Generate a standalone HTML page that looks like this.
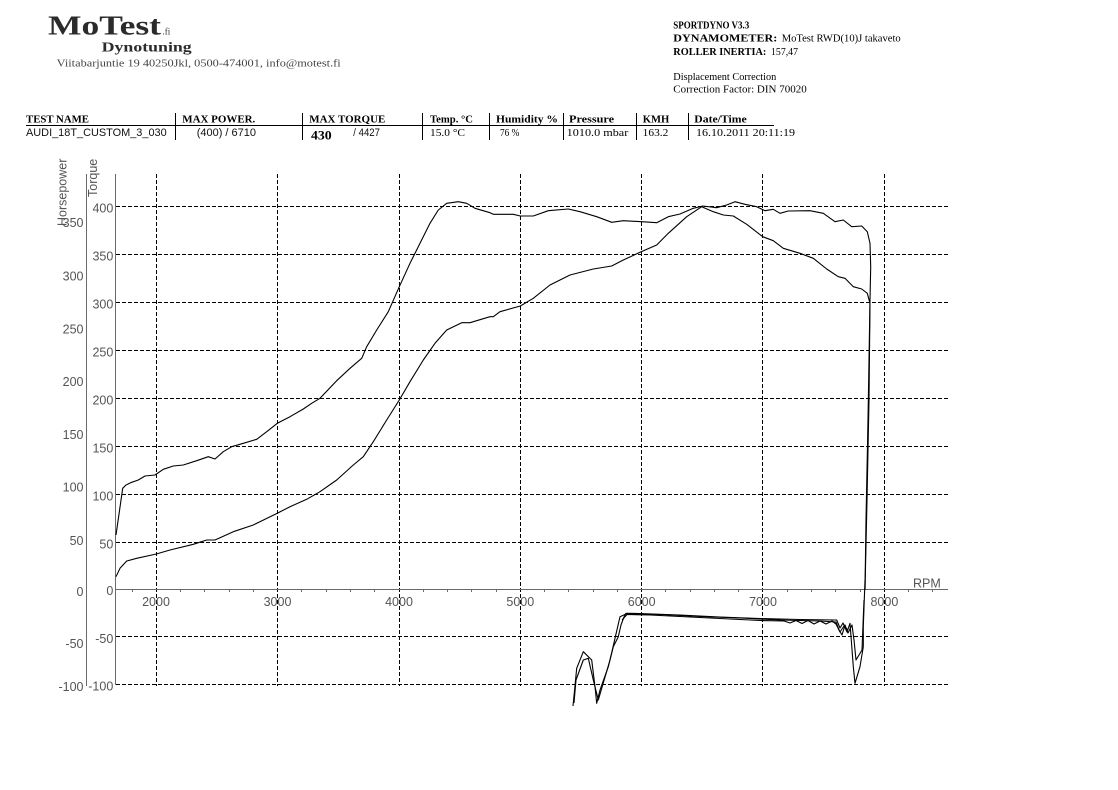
<!DOCTYPE html>
<html><head><meta charset="utf-8"><style>
html,body{margin:0;padding:0;background:#fff;}
svg{display:block;}
.ax{font-family:"Liberation Sans",sans-serif;font-size:12.5px;fill:#555;}
.sf{font-family:"Liberation Serif",serif;fill:#000;}
.ss{font-family:"Liberation Sans",sans-serif;fill:#111;}
</style></head><body>
<svg width="1118" height="790" viewBox="0 0 1118 790" xmlns="http://www.w3.org/2000/svg">
<rect width="1118" height="790" fill="#fff"/>
<!-- Header left -->
<text x="48" y="34.3" class="sf" font-size="27" font-weight="bold" fill="#2b2b2b" textLength="113" lengthAdjust="spacingAndGlyphs" style="fill:#2b2b2b">MoTest</text>
<text x="162.5" y="34.3" class="sf" font-size="9" style="fill:#333">.fi</text>
<text x="101.7" y="51.7" class="sf" font-size="14" font-weight="bold" textLength="90" lengthAdjust="spacingAndGlyphs" style="fill:#2b2b2b">Dynotuning</text>
<text x="56.7" y="66.7" class="sf" font-size="10" textLength="284" lengthAdjust="spacingAndGlyphs" style="fill:#444">Viitabarjuntie 19 40250Jkl, 0500-474001, info@motest.fi</text>
<!-- Header right -->
<text x="673.3" y="28.3" class="sf" font-size="11" font-weight="bold" textLength="76" lengthAdjust="spacingAndGlyphs">SPORTDYNO V3.3</text>
<text x="673.3" y="41.7" class="sf" font-size="11" font-weight="bold" textLength="104" lengthAdjust="spacingAndGlyphs">DYNAMOMETER:</text>
<text x="781.7" y="41.7" class="sf" font-size="11" textLength="119" lengthAdjust="spacingAndGlyphs">MoTest RWD(10)J takaveto</text>
<text x="673.3" y="55" class="sf" font-size="11" font-weight="bold" textLength="93" lengthAdjust="spacingAndGlyphs">ROLLER INERTIA:</text>
<text x="771" y="55" class="sf" font-size="11" textLength="27" lengthAdjust="spacingAndGlyphs">157,47</text>
<text x="673.3" y="80" class="sf" font-size="11" textLength="103" lengthAdjust="spacingAndGlyphs">Displacement Correction</text>
<text x="673.3" y="92.3" class="sf" font-size="11" textLength="133.4" lengthAdjust="spacingAndGlyphs">Correction Factor: DIN 70020</text>
<!-- Table -->
<g class="sf" font-size="11" font-weight="bold">
<text x="26" y="122.7" textLength="63" lengthAdjust="spacingAndGlyphs">TEST NAME</text>
<text x="182.3" y="122.7" textLength="73" lengthAdjust="spacingAndGlyphs">MAX POWER.</text>
<text x="309.3" y="122.7" textLength="76" lengthAdjust="spacingAndGlyphs">MAX TORQUE</text>
<text x="430" y="122.7" textLength="43" lengthAdjust="spacingAndGlyphs">Temp. °C</text>
<text x="496" y="122.7" textLength="62" lengthAdjust="spacingAndGlyphs">Humidity %</text>
<text x="569" y="122.7" textLength="45" lengthAdjust="spacingAndGlyphs">Pressure</text>
<text x="642.7" y="122.7" textLength="26.6" lengthAdjust="spacingAndGlyphs">KMH</text>
<text x="694.3" y="122.7" textLength="52.4" lengthAdjust="spacingAndGlyphs">Date/Time</text>
</g>
<line x1="26" y1="125.5" x2="774" y2="125.5" stroke="#000" stroke-width="1"/>
<g stroke="#000" stroke-width="1" shape-rendering="crispEdges">
<line x1="175.5" y1="113" x2="175.5" y2="140"/>
<line x1="302.5" y1="113" x2="302.5" y2="140"/>
<line x1="422.5" y1="113" x2="422.5" y2="140"/>
<line x1="489.5" y1="113" x2="489.5" y2="140"/>
<line x1="563.5" y1="113" x2="563.5" y2="140"/>
<line x1="636.5" y1="113" x2="636.5" y2="140"/>
<line x1="688.5" y1="113" x2="688.5" y2="140"/>
</g>
<text x="26" y="136" class="ss" font-size="11" textLength="140.7" lengthAdjust="spacingAndGlyphs">AUDI_18T_CUSTOM_3_030</text>
<text x="196.7" y="136" class="ss" font-size="11" textLength="59.3" lengthAdjust="spacingAndGlyphs">(400) / 6710</text>
<text x="311" y="139.3" class="sf" font-size="13" font-weight="bold" textLength="20.7" lengthAdjust="spacingAndGlyphs">430</text>
<text x="353.3" y="136" class="ss" font-size="11" textLength="26.7" lengthAdjust="spacingAndGlyphs">/ 4427</text>
<text x="430" y="136" class="sf" font-size="11" textLength="35" lengthAdjust="spacingAndGlyphs">15.0 °C</text>
<text x="500" y="136" class="sf" font-size="11" textLength="19.3" lengthAdjust="spacingAndGlyphs">76 %</text>
<text x="566.7" y="136" class="sf" font-size="11" textLength="61.6" lengthAdjust="spacingAndGlyphs">1010.0 mbar</text>
<text x="642.7" y="136" class="sf" font-size="11" textLength="25.6" lengthAdjust="spacingAndGlyphs">163.2</text>
<text x="696" y="136" class="sf" font-size="11" textLength="99" lengthAdjust="spacingAndGlyphs">16.10.2011 20:11:19</text>

<!-- Grid -->
<g stroke="#000" stroke-width="1" stroke-dasharray="4 2" shape-rendering="crispEdges" fill="none">
<line x1="116" y1="206.5" x2="948" y2="206.5"/>
<line x1="116" y1="254.5" x2="948" y2="254.5"/>
<line x1="116" y1="302.5" x2="948" y2="302.5"/>
<line x1="116" y1="350.5" x2="948" y2="350.5"/>
<line x1="116" y1="398.5" x2="948" y2="398.5"/>
<line x1="116" y1="446.5" x2="948" y2="446.5"/>
<line x1="116" y1="494.5" x2="948" y2="494.5"/>
<line x1="116" y1="542.5" x2="948" y2="542.5"/>
<line x1="116" y1="636.5" x2="948" y2="636.5"/>
<line x1="116" y1="684.5" x2="948" y2="684.5"/>
<line x1="156.5" y1="174" x2="156.5" y2="686"/>
<line x1="277.5" y1="174" x2="277.5" y2="686"/>
<line x1="399.5" y1="174" x2="399.5" y2="686"/>
<line x1="520.5" y1="174" x2="520.5" y2="686"/>
<line x1="641.5" y1="174" x2="641.5" y2="686"/>
<line x1="762.5" y1="174" x2="762.5" y2="686"/>
<line x1="884.5" y1="174" x2="884.5" y2="686"/>
</g>
<!-- Axes -->
<g stroke="#6a6a6a" stroke-width="1" shape-rendering="crispEdges">
<line x1="86.5" y1="174" x2="86.5" y2="686"/>
<line x1="115.5" y1="174" x2="115.5" y2="685"/>
<line x1="115" y1="589.5" x2="948" y2="589.5"/>
<path d="M132.5 589v3M180.5 589v3M204.5 589v3M229.5 589v3M253.5 589v3M301.5 589v3M326.5 589v3M350.5 589v3M374.5 589v3M423.5 589v3M447.5 589v3M471.5 589v3M496.5 589v3M544.5 589v3M568.5 589v3M593.5 589v3M617.5 589v3M665.5 589v3M690.5 589v3M714.5 589v3M738.5 589v3M787.5 589v3M811.5 589v3M835.5 589v3M860.5 589v3M908.5 589v3M932.5 589v3"/>
</g>
<!-- Axis labels -->
<g class="ax" text-anchor="end">
<text x="113.3" y="212.5">400</text>
<text x="113.3" y="260.5">350</text>
<text x="113.3" y="308.5">300</text>
<text x="113.3" y="356.5">250</text>
<text x="113.3" y="404.5">200</text>
<text x="113.3" y="452.5">150</text>
<text x="113.3" y="500.5">100</text>
<text x="113.3" y="548.5">50</text>
<text x="113.3" y="595">0</text>
<text x="113.3" y="643">-50</text>
<text x="113.3" y="690.5">-100</text>
<text x="83.5" y="227">350</text>
<text x="83.5" y="280.5">300</text>
<text x="83.5" y="333.5">250</text>
<text x="83.5" y="386">200</text>
<text x="83.5" y="439">150</text>
<text x="83.5" y="491.5">100</text>
<text x="83.5" y="545">50</text>
<text x="83.5" y="596">0</text>
<text x="83.5" y="648">-50</text>
<text x="83.5" y="691">-100</text>
</g>
<g class="ax" text-anchor="middle">
<text x="156" y="606">2000</text>
<text x="277.5" y="606">3000</text>
<text x="399" y="606">4000</text>
<text x="520.3" y="606">5000</text>
<text x="641.7" y="606">6000</text>
<text x="763" y="606">7000</text>
<text x="884.4" y="606">8000</text>
</g>
<text x="913" y="587.5" class="ax">RPM</text>
<text transform="translate(66.5,226) rotate(-90)" class="ax">Horsepower</text>
<text transform="translate(97,197) rotate(-90)" class="ax">Torque</text>

<!-- Curves -->
<g fill="none" stroke="#000" stroke-width="1.1" stroke-linejoin="round">
<polyline points="116,535 122.7,488.3 126,485 131.7,482.3 138.3,480 145,476 155,475 163.3,469.3 173.3,466 183.3,465 196.7,460.7 208.3,456.7 215,459 223.3,451.7 231.7,446.7 243.3,443.3 256.7,439.3 266.7,431.7 277.3,423.3 290,416.7 303.3,409 311.7,403.3 320,398.3 336.7,380.7 350,368.3 361.7,358.3 366.7,346.7 376.7,330 388.3,311.7 399.3,286.7 410,263.3 420,243.3 430,223.3 438.3,210 446.7,203.3 458.3,201.7 466.7,203.3 475,208.3 490,212.7 493.3,214.3 513.3,214.3 520.3,216 533.3,216 548.3,210.7 568.3,209 580,211.7 596.7,216.7 611.7,222.3 623.3,220.7 641.7,221.7 656.7,222.7 668.3,216.7 680,214 693.3,208.3 702.7,206 716.7,207.7 726.7,205 735,201.7 745,204.3 756.7,206.7 765,210.7 773.3,209.3 780,213.3 788.3,211 810,210.7 823.3,213.3 835,221.7 843.3,220 851.7,226.7 861.7,226 867.3,231.7 870,243.3 870.7,266.7 870,300 868,420 866,520 865,590"/>
<polyline points="116,576.7 120,568.3 126.7,561 136.7,558.3 156.3,554 170,550 193.3,544.3 206.7,540 215,540 233.3,531.7 253.3,525 277.3,513.3 290,506.7 306.7,499.3 320,491.7 336.7,480 353.3,465 363.3,456.7 373.3,441.7 386.7,420 399.3,400 410,381.7 423.3,360 435,343.3 446.7,330 461.7,322.7 470,322.7 490,316.7 493.3,316.7 500,311.7 520.3,306 533.3,298.3 550,285 570,275 593.3,269 611.7,266 623.3,260 640,252.3 656.7,245 668.3,233.3 686.7,216.7 701.7,206.7 713.3,211.7 723.3,215 733.3,216 746.7,224.3 762.7,236.7 773.3,240.7 783.3,248.3 800,253.3 813.3,258.3 826.7,269 838.3,276.7 845,278.3 853.3,286.7 861.7,289 867.3,293.3 870,303.3 869,400 867,500 865,590"/>
<polyline points="573,706 576.7,668.3 583.3,651.7 591.7,660 595,686.7 596.7,703.3 600,690 608.3,666.7 613.3,646.7 618.3,636.7 621,625 624,617 626,613.3 640,613.5 680,615 720,617 760,618.5 800,619.5 836.7,620 840,628 843,623 847,632 850,623.3 853.3,666.7 855,683.3 860,666.7 863.3,646.7 863.3,626.7 865,580"/>
<polyline points="574,703 576,680 583.3,660 588.3,658.3 593.3,680 598.3,700 610,660 620,616.7 626,614 660,614.5 700,616.5 740,618 780,620 820,621 836,622 839,630 842,635 845,625 848,633 852,625 854,640 856,660 862,650 864,600"/>
<polyline points="622,620 627,614.5 650,615 700,617.5 760,620.5 784,621 790,623 796,620.5 802,623.5 808,620.5 814,624 820,621 826,624 832,621 836,624 840,632 844,626 848,630"/>
</g>
</svg>
</body></html>
